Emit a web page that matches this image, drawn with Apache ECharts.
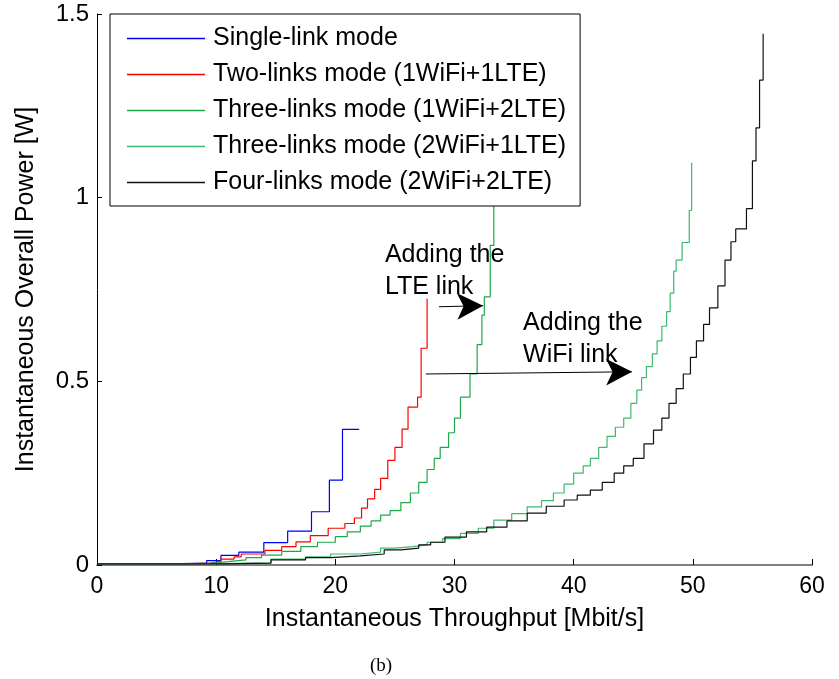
<!DOCTYPE html>
<html>
<head>
<meta charset="utf-8">
<script src="https://cdn.jsdelivr.net/npm/echarts@6/dist/echarts.min.js"></script>
<style>
  html, body { margin: 0; padding: 0; background: #fff; }
  #chart { width: 839px; height: 679px; }
</style>
</head>
<body>
<div id="chart"></div>
<script>
// series names (legend order)
const seriesNames = [
  'Single-link mode',
  'Two-links mode (1WiFi+1LTE)',
  'Three-links mode (1WiFi+2LTE)',
  'Three-links mode (2WiFi+1LTE)',
  'Four-links mode (2WiFi+2LTE)'
];
const colors = ['#0000ff', '#ff0000', '#1fa84a', '#3dba6c', '#111111'];

// [throughput Mbit/s, power W] -- each point is where a step rises to its new level
const singleLink = [
  [0, 0.003], [6.2, 0.005], [9.2, 0.012], [10.4, 0.026], [11.9, 0.035], [14, 0.061],
  [16, 0.092], [18, 0.145], [19.5, 0.231], [20.6, 0.369], [22, 0.369]
];
const twoLinks = [
  [0, 0.003], [7.4, 0.005], [9.5, 0.009], [10.4, 0.016], [11.5, 0.022], [12.1, 0.03],
  [14.1, 0.04], [15.5, 0.05], [16.7, 0.063], [17.9, 0.08], [19.4, 0.1], [20.8, 0.113],
  [21.6, 0.128], [22.2, 0.155], [22.7, 0.18], [23.3, 0.206], [23.8, 0.236], [24.4, 0.285],
  [25.0, 0.32], [25.6, 0.37], [26.1, 0.43], [26.9, 0.457], [27.2, 0.59], [27.7, 0.725]
];
const threeLinks1W2L = [
  [0, 0.003], [7.7, 0.005], [9.5, 0.009], [11, 0.014], [12.5, 0.02], [13.8, 0.027],
  [15.5, 0.037], [17.1, 0.05], [18.5, 0.062], [20, 0.077], [21, 0.09], [22.1, 0.106],
  [23, 0.12], [23.8, 0.136], [24.6, 0.148], [25.5, 0.17], [26.3, 0.196], [27, 0.225],
  [27.7, 0.26], [28.3, 0.29], [28.8, 0.32], [29.5, 0.36], [30, 0.40], [30.5, 0.457],
  [31.3, 0.52], [31.9, 0.6], [32.3, 0.68], [32.5, 0.73], [33, 0.87], [33.3, 0.99], [33.6, 1.08]
];
const threeLinks2W1L = [
  [0, 0.004], [10.4, 0.006], [14.6, 0.016], [17.5, 0.022], [19.6, 0.03], [22.1, 0.035],
  [23.8, 0.046], [25, 0.05], [26.5, 0.055], [27.7, 0.062], [29, 0.072], [30.5, 0.086],
  [32, 0.1], [33.3, 0.122], [34.8, 0.14], [36.1, 0.158], [37.3, 0.175], [38.3, 0.196],
  [39.2, 0.22], [40, 0.25], [40.8, 0.27], [41.4, 0.29], [42.1, 0.32], [42.8, 0.35],
  [43.5, 0.375], [44.2, 0.40], [44.8, 0.44], [45.3, 0.476], [45.7, 0.51], [46.1, 0.54],
  [46.6, 0.575], [47, 0.61], [47.4, 0.65], [47.8, 0.69], [48.1, 0.74], [48.4, 0.80],
  [48.6, 0.83], [49.1, 0.878], [49.7, 0.965], [49.9, 1.095]
];
const fourLinks = [
  [0, 0.003], [10.6, 0.005], [14.6, 0.014], [17.5, 0.02], [19.6, 0.025], [22.1, 0.03],
  [24.1, 0.041], [25.5, 0.046], [27, 0.055], [28, 0.062], [29.2, 0.076], [31, 0.09],
  [32.7, 0.103], [34.4, 0.12], [36.1, 0.141], [37.7, 0.16], [39.2, 0.177], [40.3, 0.19],
  [41.4, 0.204], [42.4, 0.225], [43.4, 0.25], [44.2, 0.27], [45, 0.29], [45.9, 0.33],
  [46.7, 0.367], [47.4, 0.40], [48, 0.44], [48.6, 0.48], [49.2, 0.52], [49.8, 0.565],
  [50.3, 0.61], [50.9, 0.655], [51.4, 0.70], [52.1, 0.76], [52.7, 0.83], [53.2, 0.88],
  [53.6, 0.915], [54.5, 0.97], [55, 1.10], [55.3, 1.19], [55.6, 1.32], [55.9, 1.446]
];
const seriesData = [singleLink, twoLinks, threeLinks1W2L, threeLinks2W1L, fourLinks];

// annotations (data units)
const arrows = [
  [[28.7, 0.703], [32.4, 0.706]],
  [[27.6, 0.520], [44.9, 0.526]]
];
const notes = [
  { at: [24.2, 0.886], text: 'Adding the\nLTE link' },
  { at: [35.8, 0.70], text: 'Adding the\nWiFi link' }
];

const font = 'Liberation Sans, Arial, sans-serif';
const chart = echarts.init(document.getElementById('chart'), null, { renderer: 'canvas' });

const series = seriesNames.map((name, i) => ({
  name: name,
  type: 'line',
  step: 'end',
  data: seriesData[i],
  symbol: 'none',
  showSymbol: false,
  animation: false,
  lineStyle: { color: colors[i], width: 1.2 },
  itemStyle: { color: colors[i] },
  z: 2
}));

series.push({
  name: 'annotations',
  type: 'line',
  data: [],
  silent: true,
  animation: false,
  markLine: {
    silent: true,
    symbol: ['none', 'arrow'],
    symbolSize: [20, 26],
    label: { show: false },
    lineStyle: { color: '#000', width: 1, type: 'solid' },
    emphasis: { disabled: true },
    data: arrows.map(a => [{ coord: a[0] }, { coord: a[1] }])
  },
  markPoint: {
    silent: true,
    symbol: 'rect',
    symbolSize: 1,
    itemStyle: { color: 'rgba(0,0,0,0)' },
    data: notes.map(n => ({
      coord: n.at,
      label: {
        show: true,
        formatter: n.text,
        position: [0, 0],
        align: 'left',
        verticalAlign: 'top',
        color: '#000',
        fontFamily: font,
        fontSize: 25,
        lineHeight: 32
      }
    }))
  }
});

const option = {
  backgroundColor: '#fff',
  animation: false,
  title: {
    text: '(b)',
    left: 365,
    top: 652,
    textStyle: { fontFamily: 'Liberation Serif, Times New Roman, serif', fontSize: 19, fontWeight: 'normal', color: '#000' }
  },
  grid: { left: 97, right: 27, top: 14, bottom: 114 },
  legend: {
    data: seriesNames,
    orient: 'vertical',
    left: 110,
    top: 14,
    padding: [12, 14, 11, 17],
    itemGap: 11,
    itemWidth: 78,
    itemHeight: 1.5,
    icon: 'rect',
    backgroundColor: '#fff',
    borderColor: '#000',
    borderWidth: 1,
    textStyle: { fontFamily: font, fontSize: 25, color: '#000', padding: [0, 0, 0, 3] }
  },
  xAxis: {
    type: 'value',
    min: 0,
    max: 60,
    interval: 10,
    name: 'Instantaneous Throughput [Mbit/s]',
    nameLocation: 'middle',
    nameGap: 42,
    nameTextStyle: { fontFamily: font, fontSize: 25, color: '#000' },
    axisLine: { show: true, lineStyle: { color: '#808080', width: 2 } },
    axisTick: { show: true, inside: true, length: 6, lineStyle: { color: '#000' } },
    axisLabel: { fontFamily: font, fontSize: 23, color: '#000', margin: 10 },
    splitLine: { show: false }
  },
  yAxis: {
    type: 'value',
    min: 0,
    max: 1.5,
    interval: 0.5,
    name: 'Instantaneous Overall Power [W]',
    nameLocation: 'middle',
    nameGap: 58,
    nameTextStyle: { fontFamily: font, fontSize: 25, color: '#000' },
    axisLine: { show: true, lineStyle: { color: '#000', width: 1 } },
    axisTick: { show: true, inside: true, length: 5, lineStyle: { color: '#000' } },
    axisLabel: { fontFamily: font, fontSize: 24, color: '#000', margin: 8 },
    splitLine: { show: false }
  },
  series: series
};

chart.setOption(option);
</script>
</body>
</html>
